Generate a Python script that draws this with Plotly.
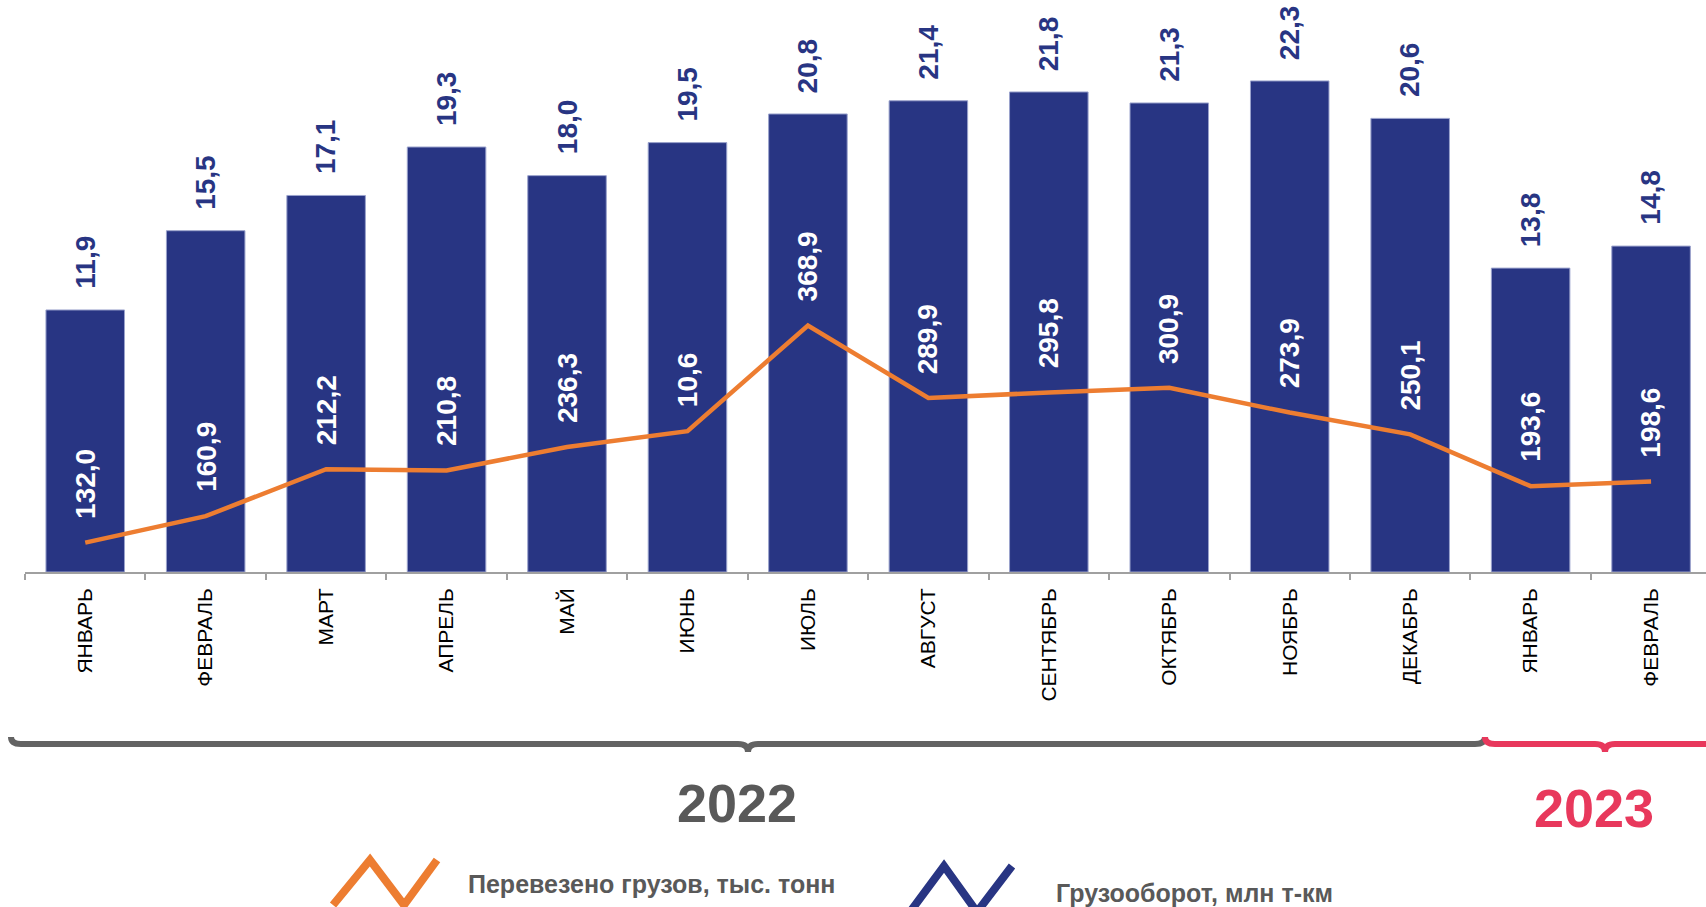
import plotly.graph_objects as go

# months on the axis (two years, so labels repeat)
months = ["ЯНВАРЬ", "ФЕВРАЛЬ", "МАРТ", "АПРЕЛЬ", "МАЙ", "ИЮНЬ", "ИЮЛЬ", "АВГУСТ",
          "СЕНТЯБРЬ", "ОКТЯБРЬ", "НОЯБРЬ", "ДЕКАБРЬ", "ЯНВАРЬ", "ФЕВРАЛЬ"]

# Грузооборот, млн т-км (bars)
turnover = [11.9, 15.5, 17.1, 19.3, 18.0, 19.5, 20.8, 21.4, 21.8, 21.3, 22.3, 20.6, 13.8, 14.8]

# Перевезено грузов, тыс. тонн (line); June point, its label is printed as 10,6
cargo = [132.0, 160.9, 212.2, 210.8, 236.3, 253.6, 368.9, 289.9, 295.8, 300.9, 273.9, 250.1, 193.6, 198.6]
cargo_labels = ["132,0", "160,9", "212,2", "210,8", "236,3", "10,6", "368,9", "289,9",
                "295,8", "300,9", "273,9", "250,1", "193,6", "198,6"]

years = ["2022", "2023"]

BLUE = "#283583"
ORANGE = "#ED7D31"
GREY = "#595959"
RED = "#E8385C"
FONT = "Liberation Sans, Arial, sans-serif"

W, H = 1706, 907
L, B = 25, 335
PW, PH = W - L, H - B


def px(x):
    return (x - L) / PW


def py(y):
    return (PH - y) / PH


def path(points):
    return "M " + " L ".join(f"{px(x):.5f},{py(y):.5f}" for x, y in points)


def brace(x0, xm, x1, y, color):
    d = (f"M {px(x0):.5f},{py(y - 7):.5f} Q {px(x0):.5f},{py(y):.5f} {px(x0 + 10):.5f},{py(y):.5f} "
         f"L {px(xm - 10):.5f},{py(y):.5f} Q {px(xm):.5f},{py(y):.5f} {px(xm):.5f},{py(y + 8):.5f} "
         f"Q {px(xm):.5f},{py(y):.5f} {px(xm + 10):.5f},{py(y):.5f} "
         f"L {px(x1 - 10):.5f},{py(y):.5f} Q {px(x1):.5f},{py(y):.5f} {px(x1):.5f},{py(y - 7):.5f}")
    return dict(type="path", xref="paper", yref="paper", path=d,
                line=dict(color=color, width=6))


def note(x, y, text, size, color, xanchor="center"):
    return dict(x=px(x), y=py(y), xref="paper", yref="paper", text=text, showarrow=False,
                xanchor=xanchor, yanchor="middle",
                font=dict(family=FONT, size=size, color=color, weight="bold"))


x = list(range(len(months)))

fig = go.Figure()
fig.add_bar(x=x, y=turnover, width=0.652, marker_color=BLUE,
            marker_line=dict(color="#9aa2cc", width=1), showlegend=False)
fig.add_scatter(x=x, y=cargo, yaxis="y2", mode="lines",
                line=dict(color=ORANGE, width=4.5), showlegend=False, cliponaxis=False)

ann = []
for i, v in enumerate(turnover):
    ann.append(dict(x=i, y=v, xref="x", yref="y", text=f"{v:.1f}".replace(".", ","),
                    textangle=-90, showarrow=False, xanchor="center", yanchor="bottom",
                    yshift=19, font=dict(family=FONT, size=28, color=BLUE, weight="bold")))
for i, v in enumerate(cargo):
    ann.append(dict(x=i, y=v, xref="x", yref="y2", text=cargo_labels[i],
                    textangle=-90, showarrow=False, xanchor="center", yanchor="bottom",
                    yshift=22, font=dict(family=FONT, size=28, color="white", weight="bold")))

ann.append(note(737, 803, years[0], 54, GREY))
ann.append(note(1594, 808, years[1], 54, RED))
ann.append(note(466, 884, "Перевезено грузов, тыс. тонн", 25, GREY, "left"))
ann.append(note(1054, 893, "Грузооборот, млн т-км", 25, GREY, "left"))

shapes = [
    brace(11, 748, 1485, 744, "#636363"),
    brace(1485, 1605, 1726, 744, RED),
    dict(type="path", xref="paper", yref="paper",
         path=path([(333, 905), (370, 860), (404, 905), (437, 860)]),
         line=dict(color=ORANGE, width=8)),
    dict(type="path", xref="paper", yref="paper",
         path=path([(910, 912), (944, 866), (977, 912), (1012, 866)]),
         line=dict(color=BLUE, width=8)),
]

fig.update_layout(
    width=W, height=H,
    margin=dict(l=L, r=0, t=0, b=B),
    plot_bgcolor="white", paper_bgcolor="white",
    annotations=ann, shapes=shapes,
    xaxis=dict(range=[-0.5, -0.5 + PW / 120.45], tickvals=x, ticktext=months, tickangle=-90,
               ticks="", showline=True, linecolor="#a0a0a0", linewidth=1.5,
               ticklabelstandoff=6, showgrid=False, zeroline=False,
               tickfont=dict(family=FONT, size=21, color="black"),
               minor=dict(ticks="outside", tick0=-0.5, dtick=1, ticklen=6,
                          tickcolor="#a0a0a0", tickwidth=1.5, showgrid=False)),
    yaxis=dict(range=[0, PH / 22.02], visible=False, showgrid=False),
    yaxis2=dict(range=[100, 100 + PH / 0.9168], overlaying="y", visible=False, showgrid=False),
)

# the page's default body margin would push the chart 8px off
fig.write_html("out.html", config={"displayModeBar": False},
               post_script="document.body.style.margin='0';")
